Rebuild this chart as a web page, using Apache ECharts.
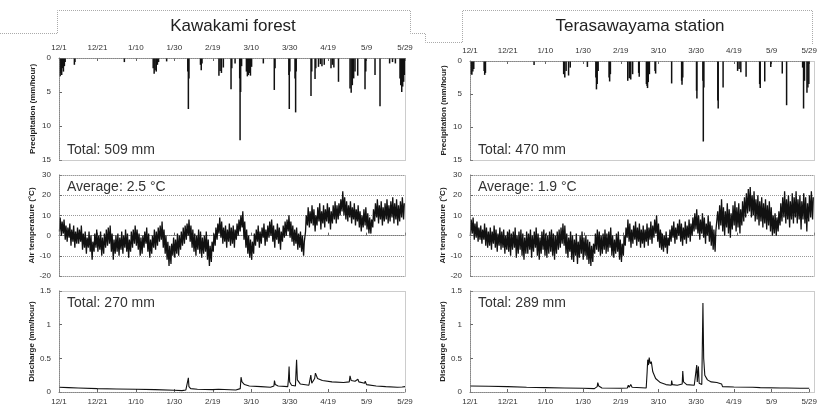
<!DOCTYPE html>
<html><head><meta charset="utf-8">
<script src="https://cdn.jsdelivr.net/npm/echarts@6/dist/echarts.min.js"></script>
<style>html,body{margin:0;padding:0;background:#fff}#c{width:820px;height:408px}</style>
</head><body><div id="c"></div>
<script>
// ---------- DATA ----------
const tickLabels = ['12/1','12/21','1/10','1/30','2/19','3/10','3/30','4/19','5/9','5/29'];
const stationNames = ['Kawakami forest', 'Terasawayama station'];
const precipTotals = ['Total: 509 mm', 'Total: 470 mm'];
const tempAverages = ['Average: 2.5 °C', 'Average: 1.9 °C'];
const dischargeTotals = ['Total: 270 mm', 'Total: 289 mm'];

// precipitation events [day since 12/1, mm/hour]
const precipKawakami = [
[0.6,2.7],[1.0,2.2],[1.4,2.5],[1.8,1.5],[2.3,2.0],[2.8,1.2],[3.2,0.6],
[8.0,1.0],[8.3,0.6],[34,0.6],
[49.0,1.5],[49.5,2.3],[50.0,1.8],[50.6,2.0],[51.2,1.0],[51.8,0.6],[56,0.5],
[67.0,2.0],[67.3,7.5],[67.6,3.0],[73.6,1.0],[74.0,1.8],[74.4,0.8],
[83.2,2.6],[83.8,1.9],[84.5,2.2],[85.5,1.4],[89.5,4.6],[89.9,1.5],[91.6,0.8],
[94.0,3.0],[94.2,12.1],[94.5,5.0],[95,1.2],
[97.5,2.0],[98.0,2.7],[98.5,2.5],[99.0,2.2],[99.6,2.6],[100.2,1.3],[106.3,0.8],
[112,4.7],[112.4,1.5],[119.6,2.5],[119.8,7.5],[120.1,2.0],[122.8,3.0],[123.1,8.0],[123.4,2.0],
[131.1,5.6],[131.5,2.0],[133.2,3.1],[133.6,1.5],[135,1.3],[136,0.9],[136.8,1.2],[138,1.0],
[141.5,1.5],[142.3,1.0],[143,1.4],[145.4,3.5],
[151.4,4.5],[152,5.1],[152.6,4.0],[153.3,3.0],[154,2.0],[155.4,2.6],[159.2,4.6],[159.6,2.0],
[164.4,2.5],[167,7.1],[172,0.8],[173.5,0.6],[175,0.8],
[177.4,3.0],[177.8,4.0],[178.3,5.0],[178.8,4.2],[179.3,3.5],[179.7,2.5]
];
const precipTerasawa = [
[0.6,2.0],[1.0,2.1],[1.5,1.6],[2.0,1.2],[7.5,1.5],[7.8,2.1],[8.2,1.8],[34,0.6],
[49.7,2.0],[50.3,2.5],[51,1.5],[52.3,2.2],[53.2,1.0],[62.3,0.9],
[66.8,2.5],[67.1,4.3],[67.5,3.5],[68,1.5],[73.8,2.5],[74.1,3.1],[74.5,2.0],
[83.7,3.0],[84.5,2.6],[85.3,2.8],[86.3,2.0],[89.5,1.8],[89.8,2.4],
[93.6,3.5],[94.0,3.8],[94.2,4.1],[94.6,3.2],[95.2,2.0],[98.2,1.5],[98.5,1.9],
[107,3.4],[112.3,3.0],[112.5,3.6],[112.9,2.5],[120.2,4.5],[120.4,5.7],
[123.6,3.0],[123.8,12.2],[124.1,4.0],[131.5,6.0],[131.7,7.2],[134.3,4.0],
[142,1.5],[142.8,1.2],[143.7,1.7],[146.5,2.4],[153.7,3.5],[154,4.1],[156.4,3.1],[159.6,0.9],
[165.7,1.9],[168,6.7],[176.5,1.0],[177,7.2],[177.5,3.0],[178.8,4.8],[179.3,4.0],[179.8,3.5]
];

// daily max / min air temperature (°C), days 0..179
const tmaxKawakami = [
9,7,8,5,4,6,3,5,2,4, 3,5,1,2,-1,2,0,-3,1,3, 0,2,-1,1,3,4,5,1,-2,0,
1,-1,2,0,3,1,-2,2,3,5, 3,1,-1,0,2,4,1,-2,0,3, 2,4,5,7,3,0,-3,-5,-4,-1,
-2,1,0,2,4,5,6,8,5,3, 1,0,3,2,-1,0,2,-2,-5,-3, 1,4,6,9,7,4,5,3,6,4,
5,3,6,8,10,12,7,3,0,-2, -3,1,3,5,2,4,6,3,5,7, 8,5,3,6,4,2,5,7,8,10,
7,5,3,4,1,2,0,-3,10,14, 12,15,13,10,14,16,12,15,13,16, 14,12,15,17,15,16,18,22,19,17,
15,17,14,16,13,15,12,10,13,14, 11,9,8,13,16,18,15,17,14,16, 18,15,17,19,16,18,15,17,19,16
];
const tminKawakami = [
2,0,1,-2,-3,-1,-5,-3,-6,-4, -4,-3,-7,-6,-9,-6,-8,-12,-8,-6, -8,-7,-10,-9,-6,-5,-4,-8,-12,-9,
-8,-10,-7,-9,-6,-8,-11,-8,-6,-4, -5,-7,-10,-9,-6,-4,-8,-11,-9,-6, -7,-5,-3,-2,-6,-9,-12,-15,-14,-10,
-11,-9,-10,-7,-5,-4,-2,0,-3,-6, -8,-10,-7,-9,-11,-9,-8,-12,-15,-13, -8,-5,-2,1,-1,-4,-3,-6,-3,-5,
-4,-6,-2,0,2,4,-2,-6,-9,-11, -12,-9,-5,-3,-6,-4,-1,-5,-3,-1, 0,-3,-6,-2,-4,-7,-3,-1,0,2,
-1,-3,-5,-4,-7,-6,-8,-10,2,5, 4,6,5,2,5,7,3,6,4,7, 6,3,6,8,6,8,10,12,10,8,
7,9,6,8,5,7,4,2,4,5, 3,1,1,4,7,9,6,8,5,7, 8,6,7,9,6,8,5,7,9,8
];
const tmaxTerasawa = [
8,9,6,7,4,5,3,6,4,2, 4,2,5,3,1,4,2,3,0,2, 3,1,2,4,0,2,3,1,-1,2,
1,3,0,2,4,1,-1,2,3,1, 0,2,3,1,0,2,3,4,6,5, 1,-1,2,0,-2,1,-3,0,2,-1,
0,-2,-3,-5,-4,1,3,2,0,1, 3,1,2,4,0,-2,1,2,-2,-4, 0,4,8,6,3,5,7,4,6,3,
5,3,6,4,7,5,8,10,6,3, 1,0,2,-1,3,5,7,4,6,8, 6,4,7,5,8,6,9,11,13,10,
8,11,9,6,10,7,5,3,2,12, 15,18,14,12,16,13,11,15,17,14, 16,13,17,19,21,23,24,20,22,18,
20,17,19,16,18,15,17,14,10,11, 9,12,16,19,22,18,20,17,21,19, 22,18,20,17,21,19,16,20,22,19
];
const tminTerasawa = [
0,1,-2,-1,-3,-2,-4,-2,-5,-6, -5,-7,-4,-6,-8,-5,-7,-6,-9,-7, -8,-10,-7,-6,-11,-9,-7,-10,-12,-9,
-9,-7,-11,-8,-6,-10,-12,-9,-7,-10, -11,-9,-8,-10,-12,-9,-7,-6,-4,-5, -9,-11,-8,-12,-13,-10,-14,-11,-9,-12,
-10,-12,-14,-15,-13,-9,-7,-8,-10,-9, -7,-9,-8,-6,-10,-11,-9,-8,-12,-13, -10,-5,-1,-3,-6,-4,-2,-5,-3,-6,
-4,-6,-3,-5,-2,-4,-1,1,-3,-6, -7,-8,-6,-9,-5,-3,-1,-4,-2,0, -3,-5,-2,-4,-1,-3,0,2,3,1,
-2,1,-1,-4,0,-3,-5,-7,-8,2, 3,5,2,0,4,1,-1,3,5,2, 4,1,5,7,9,11,12,9,10,7,
8,5,7,4,6,3,5,2,0,1, 0,2,5,7,9,6,8,4,8,6, 9,6,8,3,8,6,2,7,9,8
];

// discharge [day, mm/hour]
const dischargeKawakami = [
[0,0.07],[5,0.065],[10,0.06],[20,0.05],[30,0.045],[40,0.04],[50,0.035],[60,0.025],[64,0.02],[66,0.03],
[67,0.05],[67.3,0.21],[67.6,0.08],[68.5,0.05],[72,0.04],[80,0.035],[83,0.04],[83.3,0.06],[84,0.04],[92,0.03],
[94.3,0.05],[94.7,0.22],[95.2,0.15],[96.5,0.11],[99,0.09],[105,0.08],[110,0.07],[111.8,0.09],[112.1,0.17],[112.5,0.11],
[114,0.09],[119,0.08],[119.4,0.2],[119.7,0.38],[120,0.15],[121,0.1],[123,0.09],[123.3,0.3],[123.6,0.48],[124,0.18],
[125.5,0.12],[130,0.1],[131,0.25],[131.5,0.13],[133,0.2],[133.4,0.28],[134.5,0.2],[137,0.17],[142,0.15],[148,0.14],
[151,0.15],[151.4,0.24],[152,0.17],[154,0.16],[155.5,0.19],[156,0.15],[159,0.13],[159.3,0.16],[160,0.11],[165,0.09],
[166,0.1],[170,0.08],[176,0.07],[178.5,0.075],[179,0.1],[180,0.08]
];
const dischargeTerasawa = [
[0,0.09],[10,0.085],[20,0.08],[30,0.07],[40,0.065],[50,0.06],[60,0.055],[66,0.05],[67.5,0.08],[67.8,0.14],
[68.3,0.09],[70,0.06],[80,0.055],[83.5,0.06],[84,0.1],[84.5,0.07],[85.3,0.11],[86,0.07],[93.5,0.06],[94,0.3],
[94.3,0.48],[94.7,0.4],[95.1,0.51],[95.6,0.42],[96.2,0.45],[97,0.3],[98.5,0.2],[101,0.14],[104,0.11],[106.8,0.1],
[107,0.17],[107.4,0.11],[110,0.1],[112.6,0.12],[112.9,0.31],[113.3,0.15],[115,0.11],[119,0.1],[120.3,0.4],[120.6,0.15],
[121.2,0.38],[121.6,0.13],[123,0.11],[123.6,1.32],[124,0.5],[124.6,0.25],[126,0.18],[128,0.15],[131,0.14],[132,0.13],
[133.5,0.12],[134,0.08],[140,0.075],[150,0.07],[154,0.065],[154.5,0.08],[155,0.065],[165,0.06],[168,0.06],[168.4,0.075],
[169,0.06],[175,0.055],[180,0.055]
];

// ---------- LAYOUT ----------
const FONT = 'Liberation Sans, Arial, sans-serif';
const cols = [
  {x: 59, w: 346, rows: [{top: 58, h: 102}, {top: 175, h: 101}, {top: 291, h: 101}]},
  {x: 470, w: 344, rows: [{top: 61, h: 99}, {top: 175, h: 101}, {top: 291, h: 101}]}
];
const precipSets = [precipKawakami, precipTerasawa];
const tmaxSets = [tmaxKawakami, tmaxTerasawa];
const tminSets = [tminKawakami, tminTerasawa];
const qSets = [dischargeKawakami, dischargeTerasawa];

function tempLine(tmax, tmin) {
  const out = [];
  for (let d = 0; d < tmax.length; d++) {
    out.push([d + 0.25, tmin[d]]);
    out.push([d + 0.62, tmax[d]]);
  }
  return out;
}

const grid = [], xAxis = [], yAxis = [], series = [], graphic = [];
const lbl = {fontSize: 8, color: '#333', fontFamily: FONT};
const tick = {show: true, inside: true, length: 3, lineStyle: {color: '#666'}};
const axLine = {show: true, lineStyle: {color: '#777', type: 'dotted'}};
const yNames = ['Precipitation (mm/hour)', 'Air temperature (°C)', 'Discharge (mm/hour)'];

cols.forEach((c, ci) => {
  c.rows.forEach((r, ri) => {
    const gi = grid.length;
    grid.push({left: c.x, top: r.top, width: c.w, height: r.h, containLabel: false});
    xAxis.push({
      type: 'value', gridIndex: gi, min: 0, max: 180, interval: 20,
      position: ri === 0 ? 'top' : 'bottom',
      axisLine: axLine, axisTick: tick, splitLine: {show: false},
      axisLabel: Object.assign({show: ri !== 1, margin: 6,
        formatter: v => tickLabels[Math.round(v / 20)]}, lbl)
    });
    const yBase = {
      type: 'value', gridIndex: gi, axisLine: axLine, axisTick: tick,
      axisLabel: Object.assign({margin: 8}, lbl),
      name: yNames[ri], nameLocation: 'middle', nameGap: 22, nameRotate: 90,
      nameTextStyle: {fontSize: 8, color: '#222', fontFamily: FONT, fontWeight: 'bold'},
      splitLine: {show: false}
    };
    if (ri === 0) Object.assign(yBase, {min: 0, max: 15, interval: 5, inverse: true});
    if (ri === 1) Object.assign(yBase, {min: -20, max: 30, interval: 10,
      splitLine: {show: true, lineStyle: {color: '#999', type: 'dotted'}}});
    if (ri === 2) Object.assign(yBase, {min: 0, max: 1.5, interval: 0.5});
    yAxis.push(yBase);

    if (ri === 0) series.push({type: 'bar', xAxisIndex: gi, yAxisIndex: gi, data: precipSets[ci],
      barWidth: 1.5, itemStyle: {color: '#111'}, silent: true});
    if (ri === 1) series.push({type: 'line', xAxisIndex: gi, yAxisIndex: gi,
      data: tempLine(tmaxSets[ci], tminSets[ci]), showSymbol: false,
      lineStyle: {color: '#111', width: 1.3}, silent: true});
    if (ri === 2) series.push({type: 'line', xAxisIndex: gi, yAxisIndex: gi, data: qSets[ci],
      showSymbol: false, lineStyle: {color: '#111', width: 1.1}, silent: true});

    // panel frame
    graphic.push({type: 'rect', silent: true, z: 10,
      shape: {x: c.x + 0.5, y: r.top + 0.5, width: c.w, height: r.h},
      style: {fill: 'none', stroke: '#999', lineWidth: 1, lineDash: [1, 1]}});
  });
  // annotations
  graphic.push({type: 'text', x: c.x + 8, y: c.rows[0].top + c.rows[0].h - 17,
    style: {text: precipTotals[ci], font: '14px ' + FONT, fill: '#333'}});
  graphic.push({type: 'text', x: c.x + 8, y: c.rows[1].top + 5,
    style: {text: tempAverages[ci], font: '14px ' + FONT, fill: '#333'}});
  graphic.push({type: 'text', x: c.x + 8, y: c.rows[2].top + 5,
    style: {text: dischargeTotals[ci], font: '14px ' + FONT, fill: '#333'}});
});

// titles and tab-shaped dotted outlines
graphic.push({type: 'text', x: 233, y: 26, style: {text: stationNames[0], font: '17px ' + FONT,
  fill: '#222', textAlign: 'center', textVerticalAlign: 'middle'}});
graphic.push({type: 'text', x: 640, y: 26, style: {text: stationNames[1], font: '17px ' + FONT,
  fill: '#222', textAlign: 'center', textVerticalAlign: 'middle'}});
const dot = {fill: 'none', stroke: '#aaa', lineWidth: 1, lineDash: [1, 1]};
graphic.push({type: 'polyline', silent: true, shape: {points: [[0, 33.5], [57.5, 33.5], [57.5, 10.5], [410.5, 10.5], [410.5, 33.5], [425.5, 33.5], [425.5, 42.5], [462.5, 42.5], [462.5, 10.5], [812.5, 10.5], [812.5, 44.5]]}, style: dot});

const chart = echarts.init(document.getElementById('c'), null, {renderer: 'canvas'});
chart.setOption({animation: false, backgroundColor: '#fff', grid, xAxis, yAxis, series, graphic});
</script></body></html>
